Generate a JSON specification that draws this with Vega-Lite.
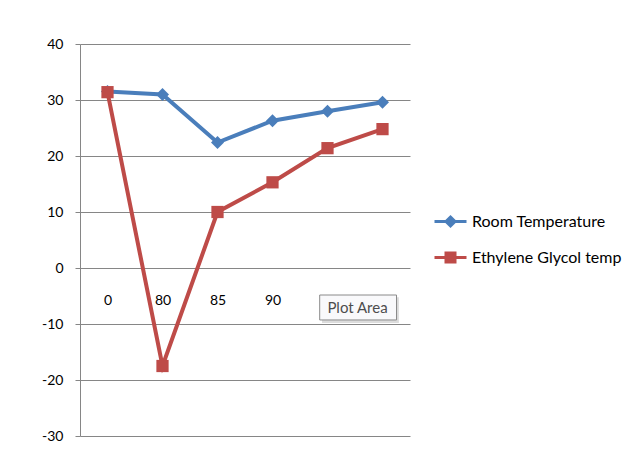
{
  "$schema": "https://vega.github.io/schema/vega-lite/v6.json",
  "width": 330,
  "height": 392,
  "autosize": {"type": "none"},
  "padding": {"left": 80, "top": 44, "right": 225, "bottom": 29},
  "background": "white",
  "config": {
    "view": {"stroke": null},
    "font": "Lato",
    "axis": {"labelFont": "Lato", "labelFontSize": 14, "labelColor": "#000000"}
  },
  "datasets": {
    "temps": [
      {"cat": "0", "series": "Room Temperature", "value": 31.5},
      {"cat": "80", "series": "Room Temperature", "value": 31.0},
      {"cat": "85", "series": "Room Temperature", "value": 22.4},
      {"cat": "90", "series": "Room Temperature", "value": 26.3},
      {"cat": "95", "series": "Room Temperature", "value": 28.0},
      {"cat": "100", "series": "Room Temperature", "value": 29.6},
      {"cat": "0", "series": "Ethylene Glycol temp", "value": 31.4},
      {"cat": "80", "series": "Ethylene Glycol temp", "value": -17.5},
      {"cat": "85", "series": "Ethylene Glycol temp", "value": 10.0},
      {"cat": "90", "series": "Ethylene Glycol temp", "value": 15.3},
      {"cat": "95", "series": "Ethylene Glycol temp", "value": 21.4},
      {"cat": "100", "series": "Ethylene Glycol temp", "value": 24.8}
    ],
    "tip": [{"cat": "95", "value": -7.05, "label": "Plot Area"}]
  },
  "encoding": {
    "x": {
      "field": "cat",
      "type": "ordinal",
      "sort": ["0", "80", "85", "90", "95", "100"],
      "scale": {"type": "point", "padding": 0.5},
      "axis": {
        "title": null,
        "labelAngle": 0,
        "domain": false,
        "ticks": false,
        "offset": -168,
        "labelPadding": 25
      }
    },
    "y": {
      "field": "value",
      "type": "quantitative",
      "scale": {"domain": [-30, 40], "nice": false, "zero": false},
      "axis": {
        "title": null,
        "values": [-30, -20, -10, 0, 10, 20, 30, 40],
        "labelExpr": "datum.value < 0 ? '-' + abs(datum.value) : '' + datum.value",
        "grid": true,
        "gridColor": "#868686",
        "gridWidth": 1,
        "domainColor": "#868686",
        "tickColor": "#868686",
        "tickSize": 5,
        "labelPadding": 12
      }
    }
  },
  "layer": [
    {
      "data": {"name": "temps"},
      "mark": {"type": "line", "strokeWidth": 4},
      "encoding": {
        "color": {
          "field": "series",
          "type": "nominal",
          "sort": ["Room Temperature", "Ethylene Glycol temp"],
          "scale": {"domain": ["Room Temperature", "Ethylene Glycol temp"], "range": ["#4A7EBB", "#BE4B48"]},
          "legend": {
            "title": null,
            "orient": "none",
            "legendX": 359,
            "legendY": 166,
            "labelFontSize": 16,
            "labelFont": "Lato",
            "labelColor": "#000000",
            "symbolSize": 400,
            "symbolStrokeWidth": 3,
            "rowPadding": 14,
            "labelOffset": 10,
            "encode": {
              "symbols": {
                "update": {
                  "shape": {"signal": "datum.value === 'Room Temperature' ? 'M-1.6,0H1.6M0,-0.45L0.45,0L0,0.45L-0.45,0Z' : 'M-1.6,0H1.6M-0.45,-0.45H0.45V0.45H-0.45Z'"},
                  "fill": {"signal": "datum.value === 'Room Temperature' ? '#4A7EBB' : '#BE4B48'"},
                  "stroke": {"signal": "datum.value === 'Room Temperature' ? '#4A7EBB' : '#BE4B48'"},
                  "strokeWidth": {"value": 3}
                }
              }
            }
          }
        }
      }
    },
    {
      "data": {"name": "temps"},
      "transform": [{"filter": "datum.series === 'Room Temperature'"}],
      "mark": {"type": "point", "shape": "diamond", "size": 170, "filled": true, "opacity": 1, "color": "#4A7EBB"}
    },
    {
      "data": {"name": "temps"},
      "transform": [{"filter": "datum.series === 'Ethylene Glycol temp'"}],
      "mark": {"type": "point", "shape": "square", "size": 150, "filled": true, "opacity": 1, "color": "#BE4B48"}
    },
    {
      "data": {"name": "tip"},
      "mark": {
        "type": "point",
        "shape": "M-0.14,-0.26H1.83V0.4H-0.14Z",
        "size": 6084,
        "filled": true,
        "fill": "#9A9A9A",
        "opacity": 0.35,
        "strokeWidth": 0
      }
    },
    {
      "data": {"name": "tip"},
      "mark": {
        "type": "point",
        "shape": "M-0.2,-0.32H1.77V0.32H-0.2Z",
        "size": 6084,
        "filled": true,
        "fill": "#F9F9FB",
        "stroke": "#8A8A8A",
        "strokeWidth": 1,
        "opacity": 1
      }
    },
    {
      "data": {"name": "tip"},
      "mark": {"type": "text", "dx": 30, "dy": 1, "fontSize": 15, "font": "Lato", "color": "#4D4D4D", "align": "center", "baseline": "middle"},
      "encoding": {"text": {"field": "label"}}
    }
  ]
}
